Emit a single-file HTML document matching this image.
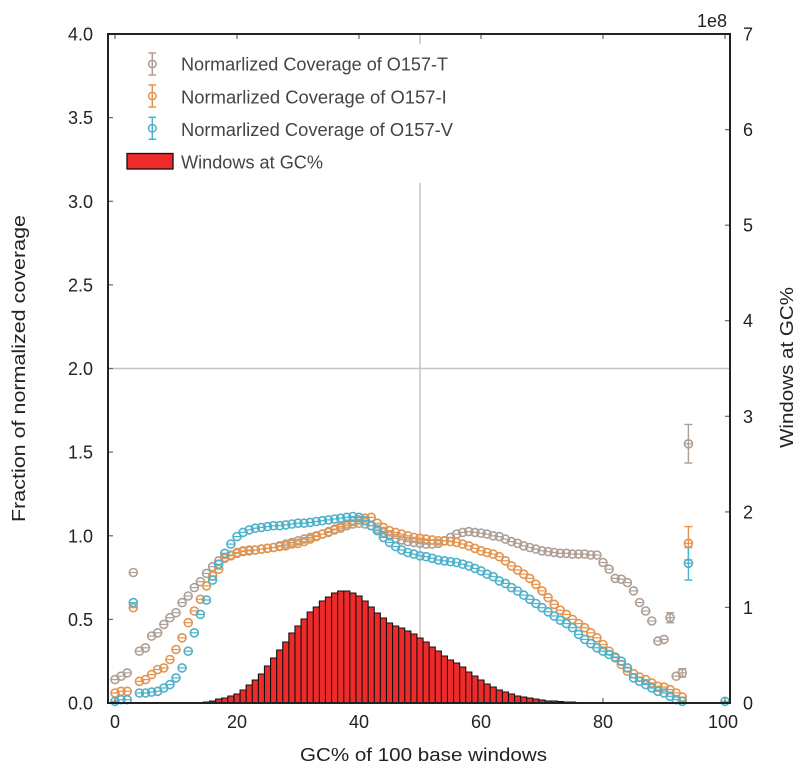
<!DOCTYPE html>
<html>
<head>
<meta charset="utf-8">
<style>
html,body{margin:0;padding:0;background:#fff;}
svg{display:block;}
text{font-family:"Liberation Sans",sans-serif;}
</style>
</head>
<body>
<svg width="800" height="778" viewBox="0 0 800 778" xmlns="http://www.w3.org/2000/svg">
<defs>
<marker id="mg" markerUnits="userSpaceOnUse" markerWidth="12" markerHeight="12" refX="6" refY="6" overflow="visible">
<circle cx="6" cy="6" r="4" fill="none" stroke="#ad9f95" stroke-width="1.6"/>
<line x1="2.6" y1="6" x2="9.4" y2="6" stroke="#ad9f95" stroke-width="1.2"/>
</marker>
<marker id="mo" markerUnits="userSpaceOnUse" markerWidth="12" markerHeight="12" refX="6" refY="6" overflow="visible">
<circle cx="6" cy="6" r="4" fill="none" stroke="#e4944c" stroke-width="1.6"/>
<line x1="2.6" y1="6" x2="9.4" y2="6" stroke="#e4944c" stroke-width="1.2"/>
</marker>
<marker id="mb" markerUnits="userSpaceOnUse" markerWidth="12" markerHeight="12" refX="6" refY="6" overflow="visible">
<circle cx="6" cy="6" r="4" fill="none" stroke="#4cb1cb" stroke-width="1.6"/>
<line x1="2.6" y1="6" x2="9.4" y2="6" stroke="#4cb1cb" stroke-width="1.2"/>
</marker>
</defs>
<rect x="0" y="0" width="800" height="778" fill="#fff"/>

<!-- gridlines -->
<line x1="420" y1="34" x2="420" y2="703" stroke="#c4c4c4" stroke-width="1.5"/>
<line x1="108" y1="368.5" x2="730" y2="368.5" stroke="#c4c4c4" stroke-width="1.5"/>

<!-- histogram -->
<path fill="#ee2a2a" stroke="#111" stroke-width="1.1" d="M197.35,703V702.5h6.1V703z M203.45,703V702h6.1V703z M209.55,703V701h6.1V703z M215.65,703V699h6.1V703z M221.75,703V698h6.1V703z M227.85,703V696h6.1V703z M233.95,703V694h6.1V703z M240.05,703V690h6.1V703z M246.15,703V685h6.1V703z M252.25,703V680h6.1V703z M258.35,703V674h6.1V703z M264.45,703V666h6.1V703z M270.55,703V658h6.1V703z M276.65,703V650h6.1V703z M282.75,703V642h6.1V703z M288.85,703V633h6.1V703z M294.95,703V626h6.1V703z M301.05,703V619h6.1V703z M307.15,703V612h6.1V703z M313.25,703V607h6.1V703z M319.35,703V601h6.1V703z M325.45,703V597h6.1V703z M331.55,703V593h6.1V703z M337.65,703V591h6.1V703z M343.75,703V591h6.1V703z M349.85,703V593h6.1V703z M355.95,703V596h6.1V703z M362.05,703V601h6.1V703z M368.15,703V607h6.1V703z M374.25,703V613h6.1V703z M380.35,703V618h6.1V703z M386.45,703V623h6.1V703z M392.55,703V626h6.1V703z M398.65,703V628h6.1V703z M404.75,703V631h6.1V703z M410.85,703V634h6.1V703z M416.95,703V638h6.1V703z M423.05,703V642h6.1V703z M429.15,703V647h6.1V703z M435.25,703V651h6.1V703z M441.35,703V656h6.1V703z M447.45,703V660h6.1V703z M453.55,703V663h6.1V703z M459.65,703V667h6.1V703z M465.75,703V672h6.1V703z M471.85,703V676h6.1V703z M477.95,703V680h6.1V703z M484.05,703V684h6.1V703z M490.15,703V687h6.1V703z M496.25,703V690h6.1V703z M502.35,703V692h6.1V703z M508.45,703V694h6.1V703z M514.55,703V696h6.1V703z M520.65,703V697h6.1V703z M526.75,703V698h6.1V703z M532.85,703V699h6.1V703z M538.95,703V700h6.1V703z M545.05,703V701h6.1V703z M551.15,703V701h6.1V703z M557.25,703V701.5h6.1V703z M563.35,703V702h6.1V703z M569.45,703V702h6.1V703z M575.55,703V702.5h6.1V703z"/>

<!-- error bars -->
<g stroke-width="1.4" fill="none">
<g stroke="#ad9f95">
<line x1="688.4" y1="424.5" x2="688.4" y2="463"/><line x1="684.4" y1="424.5" x2="692.4" y2="424.5"/><line x1="684.4" y1="463" x2="692.4" y2="463"/>
<line x1="670.1" y1="612.7" x2="670.1" y2="622.7"/><line x1="666.1" y1="612.7" x2="674.1" y2="612.7"/><line x1="666.1" y1="622.7" x2="674.1" y2="622.7"/>
<line x1="682.3" y1="668.7" x2="682.3" y2="677.1"/><line x1="678.3" y1="668.7" x2="686.3" y2="668.7"/><line x1="678.3" y1="677.1" x2="686.3" y2="677.1"/>
</g>
<g stroke="#e4944c">
<line x1="688.4" y1="526.6" x2="688.4" y2="560"/><line x1="684.4" y1="526.6" x2="692.4" y2="526.6"/><line x1="684.4" y1="560" x2="692.4" y2="560"/>
</g>
<g stroke="#4cb1cb">
<line x1="688.4" y1="547.5" x2="688.4" y2="580.1"/><line x1="684.4" y1="547.5" x2="692.4" y2="547.5"/><line x1="684.4" y1="580.1" x2="692.4" y2="580.1"/>
</g>
</g>

<!-- series T -->
<polyline fill="none" stroke="none" marker-start="url(#mg)" marker-mid="url(#mg)" marker-end="url(#mg)" points="115,679.6 121.1,676.2 127.2,672.9 133.3,572.5 139.4,651.2 145.5,647.8 151.6,636.1 157.7,632.8 163.8,624.4 169.9,617.7 176,612.7 182.1,602.6 188.2,596 194.3,587.6 200.4,581.7 206.5,573.4 212.6,566.7 218.7,560.8 224.8,557.5 230.9,555.8 237,553.3 243.1,551.6 249.2,550.8 255.3,550 261.4,549.1 267.5,548.3 273.6,547.5 279.7,545.8 285.8,544.1 291.9,542.4 298,540.8 304.1,539.1 310.2,537.4 316.3,535.8 322.4,534.1 328.5,532.4 334.6,529.9 340.7,528.2 346.8,525.7 352.9,524 359,523.2 365.1,524 371.2,525.7 377.3,529.1 383.4,532.4 389.5,535.8 395.6,538.3 401.7,539.9 407.8,541.6 413.9,542.4 420,543.3 426.1,544.1 432.2,544.1 438.3,543.3 444.4,540.8 450.5,537.4 456.6,534.1 462.7,532.4 468.8,531.6 474.9,532.4 481,533.2 487.1,534.1 493.2,535.8 499.3,536.6 505.4,539.1 511.5,541.6 517.6,543.3 523.7,545.8 529.8,547.5 535.9,549.1 542,550.8 548.1,551.6 554.2,552.5 560.3,553.3 566.4,553.3 572.5,554.1 578.6,554.1 584.7,554.1 590.8,555 596.9,555 603,562.5 609.1,569.2 615.2,578.4 621.3,579.2 627.4,582.6 633.5,590.9 639.6,602.6 645.7,611 651.8,621 657.9,641.1 664,639.4 670.1,617.7 676.2,676.2 682.3,672.9 688.4,443.8"/>

<!-- series I -->
<polyline fill="none" stroke="none" marker-start="url(#mo)" marker-mid="url(#mo)" marker-end="url(#mo)" points="115,693 121.1,691.3 127.2,691.3 133.3,607.7 139.4,681.3 145.5,679.6 151.6,674.6 157.7,669.5 163.8,667.9 169.9,659.5 176,649.5 182.1,637.8 188.2,622.7 194.3,611 200.4,599.3 206.5,585.9 212.6,575.9 218.7,569.2 224.8,558.3 230.9,555 237,552.5 243.1,550.8 249.2,550 255.3,550 261.4,549.1 267.5,548.3 273.6,547.5 279.7,546.6 285.8,545.8 291.9,544.1 298,543.3 304.1,541.6 310.2,539.1 316.3,536.6 322.4,534.1 328.5,531.6 334.6,529.1 340.7,526.6 346.8,524 352.9,521.5 359,519.9 365.1,518.2 371.2,517.3 377.3,523.2 383.4,527.4 389.5,530.7 395.6,532.4 401.7,534.1 407.8,535.8 413.9,537.4 420,538.3 426.1,539.1 432.2,539.9 438.3,540.8 444.4,540.8 450.5,541.6 456.6,542.4 462.7,544.1 468.8,545.8 474.9,548.3 481,550.8 487.1,552.5 493.2,554.1 499.3,556.7 505.4,560.8 511.5,565.9 517.6,570 523.7,574.2 529.8,578.4 535.9,584.3 542,590.9 548.1,597.6 554.2,604.3 560.3,610.2 566.4,614.4 572.5,619.4 578.6,623.6 584.7,627.7 590.8,632.8 596.9,637.8 603,644.5 609.1,651.2 615.2,657.8 621.3,664.5 627.4,671.2 633.5,673.7 639.6,677.1 645.7,679.6 651.8,682.9 657.9,686.3 664,687.1 670.1,689.6 676.2,693 682.3,697.1 688.4,543.3"/>

<!-- series V -->
<polyline fill="none" stroke="none" marker-start="url(#mb)" marker-mid="url(#mb)" marker-end="url(#mb)" points="115,701.3 121.1,699.7 127.2,699.7 133.3,602.6 139.4,693 145.5,693 151.6,692.1 157.7,691.3 163.8,688 169.9,684.6 176,677.9 182.1,667.9 188.2,651.2 194.3,632.8 200.4,614.4 206.5,600 212.6,580.1 218.7,564.2 224.8,553.3 230.9,544.1 237,536.6 243.1,532.4 249.2,529.9 255.3,528.2 261.4,527.4 267.5,526.6 273.6,525.7 279.7,525.7 285.8,524.9 291.9,524 298,523.2 304.1,523.2 310.2,522.4 316.3,521.5 322.4,520.7 328.5,519.9 334.6,519 340.7,518.2 346.8,517.3 352.9,516.5 359,517.3 365.1,520.7 371.2,525.7 377.3,530.7 383.4,537.4 389.5,542.4 395.6,546.6 401.7,550 407.8,552.5 413.9,554.1 420,555.8 426.1,556.7 432.2,558.3 438.3,560 444.4,560.8 450.5,561.7 456.6,562.5 462.7,564.2 468.8,565.9 474.9,568.4 481,570.9 487.1,574.2 493.2,576.7 499.3,580.9 505.4,583.4 511.5,587.6 517.6,591 523.7,595.1 529.8,599.3 535.9,603.5 542,607.7 548.1,611.8 554.2,616 560.3,620.2 566.4,623.6 572.5,627.7 578.6,634.4 584.7,639.4 590.8,643.6 596.9,647.8 603,651.2 609.1,654.5 615.2,657 621.3,661.2 627.4,667.9 633.5,677.9 639.6,681.3 645.7,684.6 651.8,688 657.9,691.3 664,693 670.1,696.3 676.2,699.7 682.3,701.3 688.4,563.3 725,701.3"/>

<!-- legend -->
<rect x="116" y="44" width="345" height="139" fill="#fff"/>
<g stroke-width="1.5" fill="none">
<g stroke="#ad9f95"><line x1="152.3" y1="53" x2="152.3" y2="75"/><line x1="148.5" y1="53" x2="156.1" y2="53"/><line x1="148.5" y1="75" x2="156.1" y2="75"/><circle cx="152.3" cy="64" r="3.8"/></g>
<g stroke="#e4944c"><line x1="152.3" y1="85" x2="152.3" y2="107"/><line x1="148.5" y1="85" x2="156.1" y2="85"/><line x1="148.5" y1="107" x2="156.1" y2="107"/><circle cx="152.3" cy="96" r="3.8"/></g>
<g stroke="#4cb1cb"><line x1="152.3" y1="117.3" x2="152.3" y2="139.3"/><line x1="148.5" y1="117.3" x2="156.1" y2="117.3"/><line x1="148.5" y1="139.3" x2="156.1" y2="139.3"/><circle cx="152.3" cy="128.3" r="3.8"/></g>
</g>
<rect x="127" y="153.5" width="46" height="15.5" fill="#ee2a2a" stroke="#111" stroke-width="1.3"/>
<g fill="#444" font-size="18">
<text x="181" y="70.7" textLength="267" lengthAdjust="spacingAndGlyphs">Normarlized Coverage of O157-T</text>
<text x="181" y="103.3" textLength="265.7" lengthAdjust="spacingAndGlyphs">Normarlized Coverage of O157-I</text>
<text x="181" y="136" textLength="272" lengthAdjust="spacingAndGlyphs">Normarlized Coverage of O157-V</text>
<text x="181" y="168.3" textLength="142" lengthAdjust="spacingAndGlyphs">Windows at GC%</text>
</g>

<!-- ticks -->
<g stroke="#666" stroke-width="1.2">
<line x1="108" y1="619.4" x2="113" y2="619.4"/><line x1="108" y1="535.8" x2="113" y2="535.8"/><line x1="108" y1="452.1" x2="113" y2="452.1"/><line x1="108" y1="368.5" x2="113" y2="368.5"/><line x1="108" y1="284.9" x2="113" y2="284.9"/><line x1="108" y1="201.3" x2="113" y2="201.3"/><line x1="108" y1="117.6" x2="113" y2="117.6"/>
<line x1="725" y1="607.4" x2="730" y2="607.4"/><line x1="725" y1="511.9" x2="730" y2="511.9"/><line x1="725" y1="416.3" x2="730" y2="416.3"/><line x1="725" y1="320.7" x2="730" y2="320.7"/><line x1="725" y1="225.2" x2="730" y2="225.2"/><line x1="725" y1="129.6" x2="730" y2="129.6"/>
<line x1="115" y1="703" x2="115" y2="698"/><line x1="237" y1="703" x2="237" y2="698"/><line x1="359" y1="703" x2="359" y2="698"/><line x1="481" y1="703" x2="481" y2="698"/><line x1="603" y1="703" x2="603" y2="698"/><line x1="725" y1="703" x2="725" y2="698"/>
<line x1="115" y1="34" x2="115" y2="39"/><line x1="237" y1="34" x2="237" y2="39"/><line x1="359" y1="34" x2="359" y2="39"/><line x1="481" y1="34" x2="481" y2="39"/><line x1="603" y1="34" x2="603" y2="39"/><line x1="725" y1="34" x2="725" y2="39"/>
</g>

<!-- frame -->
<rect x="108" y="34" width="622" height="669" fill="none" stroke="#222" stroke-width="2"/>

<!-- tick labels -->
<g fill="#222" font-size="18" text-anchor="end">
<text x="93" y="709.5">0.0</text>
<text x="93" y="625.9">0.5</text>
<text x="93" y="542.3">1.0</text>
<text x="93" y="458.6">1.5</text>
<text x="93" y="375">2.0</text>
<text x="93" y="291.4">2.5</text>
<text x="93" y="207.8">3.0</text>
<text x="93" y="124.1">3.5</text>
<text x="93" y="40.5">4.0</text>
</g>
<g fill="#222" font-size="18">
<text x="743" y="709.5">0</text>
<text x="743" y="613.9">1</text>
<text x="743" y="518.4">2</text>
<text x="743" y="422.8">3</text>
<text x="743" y="327.2">4</text>
<text x="743" y="231.7">5</text>
<text x="743" y="136.1">6</text>
<text x="743" y="40.5">7</text>
<text x="727" y="27" text-anchor="end">1e8</text>
</g>
<g fill="#222" font-size="18" text-anchor="middle">
<text x="115" y="728">0</text>
<text x="237" y="728">20</text>
<text x="359" y="728">40</text>
<text x="481" y="728">60</text>
<text x="603" y="728">80</text>
<text x="723" y="728">100</text>
</g>

<!-- axis labels -->
<text x="300" y="761" fill="#222" font-size="18" textLength="247" lengthAdjust="spacingAndGlyphs">GC% of 100 base windows</text>
<text transform="translate(25,368.5) rotate(-90)" fill="#222" font-size="18" text-anchor="middle" textLength="307" lengthAdjust="spacingAndGlyphs">Fraction of normalized coverage</text>
<text transform="translate(793,367.5) rotate(-90)" fill="#222" font-size="18" text-anchor="middle" textLength="161" lengthAdjust="spacingAndGlyphs">Windows at GC%</text>
</svg>
</body>
</html>
